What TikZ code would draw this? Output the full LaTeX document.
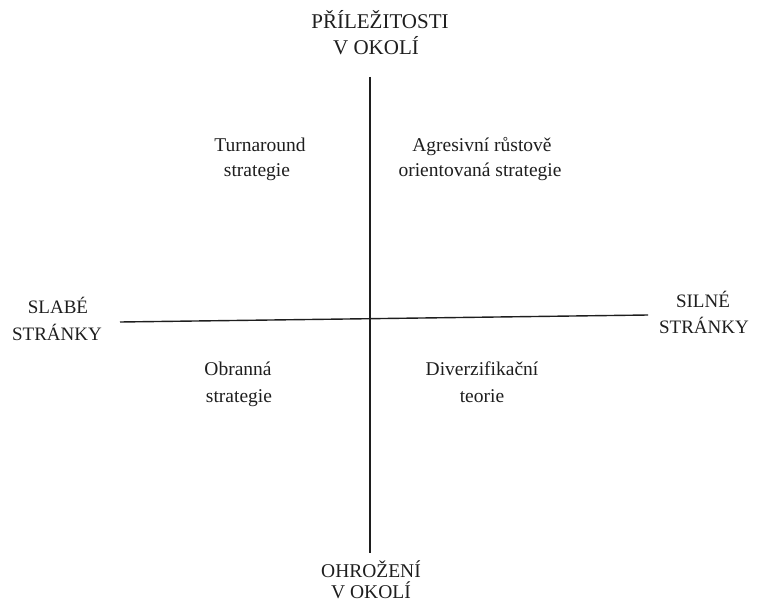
\documentclass[tikz,border=0pt]{standalone}
\usepackage{fontspec}
\setmainfont{Liberation Serif}
\definecolor{ink}{HTML}{1E1E1E}
\tikzset{
  axislabel/.style={anchor=base, inner sep=0pt, text=ink, font=\fontsize{19.5}{22}\selectfont},
  toplabel/.style={axislabel, font=\fontsize{21}{24}\selectfont},
  sidelabel/.style={axislabel, font=\fontsize{19}{22}\selectfont},
  quadlabel/.style={anchor=base, inner sep=0pt, text=ink, font=\fontsize{19.5}{22}\selectfont},
  axisline/.style={draw=ink, line width=1.4pt}
}
\begin{document}
\begin{tikzpicture}[x=1pt, y=-1pt]
\useasboundingbox (0,0) rectangle (758,604);
% axes
\coordinate (vtop) at (370,77);
\coordinate (vbot) at (370,553);
\coordinate (hleft) at (120,322);
\coordinate (hright) at (648,315);
\draw[axisline] (vtop) -- (vbot);
\draw[axisline] (hleft) -- (hright);
% axis labels
\node[toplabel] (top1) at (380,29) {PŘÍLEŽITOSTI};
\node[toplabel] (top2) at (376,55) {V OKOLÍ};
\node[sidelabel] (left1) at (58,313) {SLABÉ};
\node[sidelabel] (left2) at (57,340) {STRÁNKY};
\node[sidelabel] (right1) at (703,307) {SILNÉ};
\node[sidelabel] (right2) at (704,333) {STRÁNKY};
\node[axislabel] (bot1) at (371,577) {OHROŽENÍ};
\node[axislabel] (bot2) at (371,598) {V OKOLÍ};
% quadrant labels
\node[quadlabel] (tl1) at (260,152) {Turnaround};
\node[quadlabel] (tl2) at (257,177) {strategie};
\node[quadlabel] (tr1) at (482,152) {Agresivní růstově};
\node[quadlabel] (tr2) at (480,177) {orientovaná strategie};
\node[quadlabel] (bl1) at (238,375) {Obranná};
\node[quadlabel] (bl2) at (239,402) {strategie};
\node[quadlabel] (br1) at (482,375) {Diverzifikační};
\node[quadlabel] (br2) at (482,402) {teorie};
\end{tikzpicture}
\end{document}
